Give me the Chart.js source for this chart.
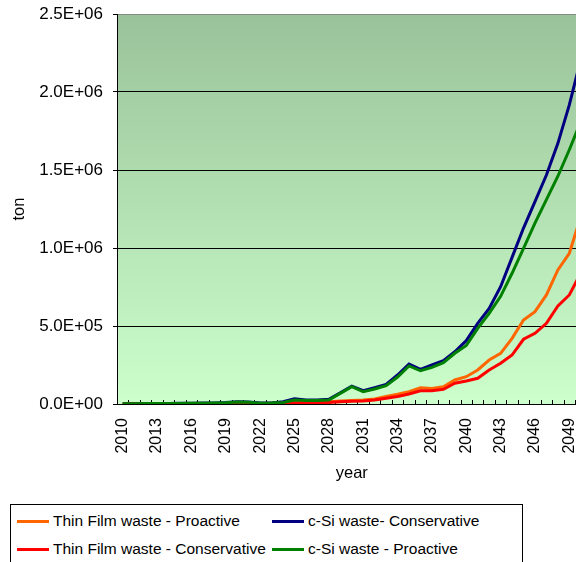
<!DOCTYPE html>
<html>
<head>
<meta charset="utf-8">
<script src="https://cdn.jsdelivr.net/npm/chart.js@4/dist/chart.umd.min.js"></script>
<style>
  html, body { margin: 0; padding: 0; background: #fff; }
  body { width: 576px; height: 562px; overflow: hidden; position: relative;
         font-family: "Liberation Sans", Arial, sans-serif; }
  #wrap { position: absolute; left: 0; top: 0; width: 600px; height: 500px; }
  .legend { position: absolute; left: 10px; top: 504px; width: 513px; height: 80px;
            border: 1px solid #000; box-sizing: border-box; }
  .item { position: absolute; height: 20px; display: flex; align-items: center;
          font-size: 15.5px; color: #000; white-space: nowrap; }
  .swatch { display: inline-block; width: 32px; height: 3px; margin-right: 4px; }
</style>
</head>
<body>
<div id="wrap"><canvas id="chart" width="600" height="500"></canvas></div>
<div class="legend" id="legend"></div>
<script>
// Categories: one per year
const years = ['2010','2011','2012','2013','2014','2015','2016','2017','2018','2019',
               '2020','2021','2022','2023','2024','2025','2026','2027','2028','2029',
               '2030','2031','2032','2033','2034','2035','2036','2037','2038','2039',
               '2040','2041','2042','2043','2044','2045','2046','2047','2048','2049','2050'];

// Cumulative PV waste, tons
const thinFilmProactive = [500, 600, 700, 800, 900, 1000, 1200, 1400, 1700, 2000,
  2500, 3000, 3500, 4500, 6000, 8000, 9500, 11000, 15000, 20000,
  23000, 26000, 32000, 48000, 62000, 79000, 104000, 100000, 111000, 154000,
  175000, 218000, 282000, 325000, 421000, 538000, 592000, 699000, 859000, 966000, 1200000];

const cSiConservative = [2000, 2500, 3000, 3500, 4000, 5000, 5500, 6000, 7000, 9000,
  15000, 13000, 6000, 7000, 15000, 34000, 26000, 26000, 30000, 72000,
  115000, 85000, 105000, 126000, 186000, 256000, 222000, 250000, 278000, 335000,
  406000, 517000, 613000, 752000, 940000, 1128000, 1297000, 1468000, 1671000, 1917000, 2210000];

const thinFilmConservative = [400, 500, 600, 700, 800, 900, 1000, 1200, 1400, 1600,
  2000, 2400, 2800, 3500, 4500, 6000, 7000, 8000, 10000, 14000,
  17000, 19000, 26000, 37000, 48000, 64000, 85000, 85000, 94000, 133000,
  148000, 165000, 218000, 261000, 314000, 415000, 453000, 517000, 628000, 699000, 840000];

const cSiProactive = [1500, 2000, 2500, 3000, 3500, 4000, 4500, 5000, 6000, 8000,
  13000, 11000, 5000, 6000, 10000, 26000, 22000, 22000, 26000, 68000,
  111000, 79000, 96000, 117000, 173000, 244000, 213000, 235000, 265000, 325000,
  375000, 485000, 581000, 690000, 838000, 998000, 1160000, 1310000, 1460000, 1630000, 1810000];

const seriesNames = ['Thin Film waste - Proactive', 'c-Si waste- Conservative',
                     'Thin Film waste - Conservative', 'c-Si waste - Proactive'];
const seriesColors = ['#FF6600', '#000080', '#FF0000', '#008000'];
const seriesData = [thinFilmProactive, cSiConservative, thinFilmConservative, cSiProactive];
const drawOrder = [4, 3, 2, 1];

const FONT = '"Liberation Sans", Arial, sans-serif';

function sciLabel(v) {
  const [m, e] = Number(v).toExponential(1).split('e');
  const n = parseInt(e, 10);
  return m + 'E' + (n < 0 ? '-' : '+') + String(Math.abs(n)).padStart(2, '0');
}

// Keep the plot area fixed by the layout padding alone
function clearScalePadding(scale) {
  scale.paddingLeft = 0;
  scale.paddingRight = 0;
  scale.paddingTop = 0;
  scale.paddingBottom = 0;
}

// Green gradient behind the plot area
const plotBackground = {
  id: 'plotBackground',
  beforeDraw(chart) {
    const { ctx, chartArea: a } = chart;
    const g = ctx.createLinearGradient(0, a.top, 0, a.bottom);
    g.addColorStop(0, '#9AC29A');
    g.addColorStop(1, '#CCFFCC');
    ctx.save();
    ctx.fillStyle = g;
    ctx.fillRect(a.left, a.top, a.right - a.left, a.bottom - a.top);
    ctx.restore();
  }
};

// Small inward tick marks between year categories
const innerTicks = {
  id: 'innerTicks',
  beforeDatasetsDraw(chart) {
    const { ctx, chartArea: a, scales: { x } } = chart;
    ctx.save();
    ctx.strokeStyle = '#000';
    ctx.lineWidth = 1;
    ctx.beginPath();
    for (let k = 1; k <= years.length; k++) {
      const px = Math.round(x.getPixelForValue(k - 0.5)) + 0.5;
      ctx.moveTo(px, a.bottom);
      ctx.lineTo(px, a.bottom - 4);
    }
    ctx.stroke();
    ctx.restore();
  }
};

new Chart(document.getElementById('chart'), {
  type: 'line',
  data: {
    labels: years,
    datasets: seriesData.map((d, i) => ({
      label: seriesNames[i],
      data: d,
      borderColor: seriesColors[i],
      backgroundColor: seriesColors[i],
      borderWidth: 3,
      pointRadius: 0,
      tension: 0,
      fill: false,
      order: drawOrder[i]
    }))
  },
  options: {
    responsive: false,
    animation: false,
    devicePixelRatio: 1,
    layout: { padding: { left: 0, top: 14, right: 13.5, bottom: 17 } },
    plugins: { legend: { display: false }, tooltip: { enabled: false } },
    scales: {
      x: {
        type: 'category',
        offset: true,
        grid: { display: false, drawTicks: false },
        border: { display: true, color: '#000', width: 1 },
        ticks: {
          autoSkip: false,
          minRotation: 90,
          maxRotation: 90,
          padding: 14,
          color: '#000',
          font: { family: FONT, size: 16 },
          callback: (v, i) => (i % 3 === 0 ? years[i] : '')
        },
        title: { display: true, text: 'year', color: '#000',
                 font: { family: FONT, size: 16.5 }, padding: { top: 0, bottom: 0 } },
        afterFit(scale) { scale.height = 79; clearScalePadding(scale); }
      },
      y: {
        min: 0,
        max: 2500000,
        grid: {
          color: c => (c.tick && c.tick.value === 2500000 ? '#888888' : '#000000'),
          tickColor: '#000',
          lineWidth: 1,
          drawTicks: true,
          tickLength: 4
        },
        border: { display: true, color: '#000', width: 1 },
        ticks: {
          stepSize: 500000,
          padding: 10,
          color: '#000',
          font: { family: FONT, size: 17 },
          callback: v => sciLabel(v)
        },
        title: { display: true, text: 'ton', color: '#000',
                 font: { family: FONT, size: 16.5 }, padding: { top: 10, bottom: 0 } },
        afterFit(scale) { scale.width = 117; clearScalePadding(scale); }
      }
    }
  },
  plugins: [plotBackground, innerTicks]
});

// Two-column legend box under the chart
const legendEl = document.getElementById('legend');
const legendSlots = [[6, 6], [261, 6], [6, 34], [261, 34]];
seriesNames.forEach((name, i) => {
  const item = document.createElement('div');
  item.className = 'item';
  item.style.left = legendSlots[i][0] + 'px';
  item.style.top = legendSlots[i][1] + 'px';
  const sw = document.createElement('span');
  sw.className = 'swatch';
  sw.style.background = seriesColors[i];
  const tx = document.createElement('span');
  tx.textContent = name;
  item.appendChild(sw);
  item.appendChild(tx);
  legendEl.appendChild(item);
});
</script>
</body>
</html>
